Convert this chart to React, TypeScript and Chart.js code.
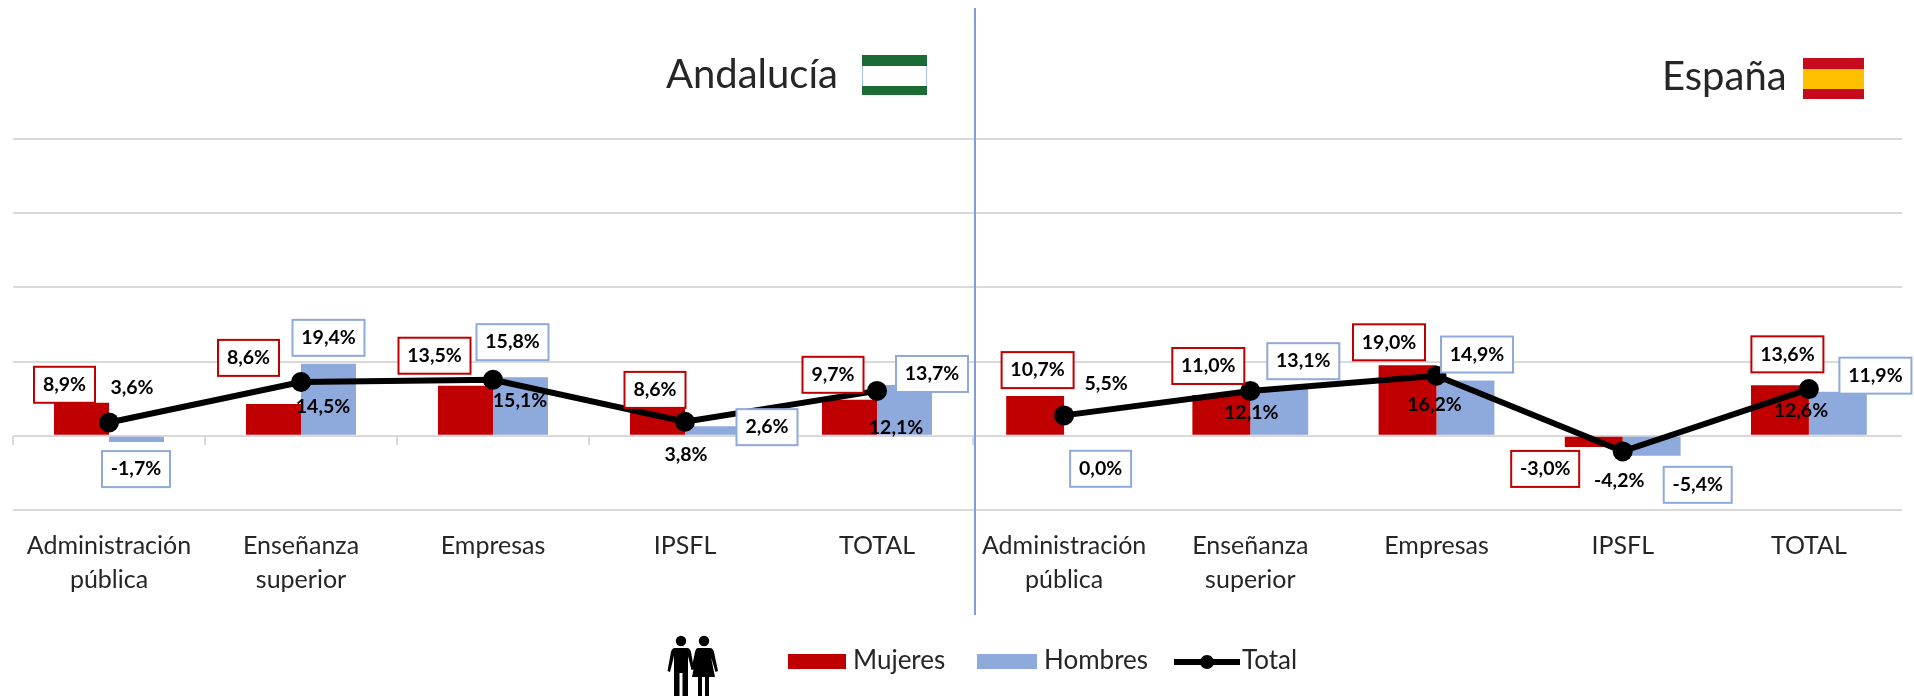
import React, { useEffect, useRef } from "react";
import { Chart, registerables } from "chart.js";

Chart.register(...registerables);

const categories = [["Administración", "pública"], ["Enseñanza", "superior"], "Empresas", "IPSFL", "TOTAL"];

const andaluciaMujeres = [8.9, 8.6, 13.5, 8.6, 9.7];
const andaluciaHombres = [-1.7, 19.4, 15.8, 2.6, 13.7];
const andaluciaTotal = [3.6, 14.5, 15.1, 3.8, 12.1];

const espanaMujeres = [10.7, 11.0, 19.0, -3.0, 13.6];
const espanaHombres = [0.0, 13.1, 14.9, -5.4, 11.9];
const espanaTotal = [5.5, 12.1, 16.2, -4.2, 12.6];

const seriesNames = ["Mujeres", "Hombres", "Total"];
const RED = "#C00000";
const BLUE = "#8EA9DB";
const GRID = "#D9D9D9";
const FONT = "Lato, Carlito, sans-serif";

// Hand-placed label offsets from category centre / value pixel: [dx, dy]
const offsetsAndalucia = [
  [[-44.5, -18], [-52.5, -46], [-58.5, -30], [-30, -14], [-44, -25]],
  [[27, 27], [27.5, -26], [19.5, -35], [82, 1], [55, -11]],
  [[23, -35], [22, 25], [27, 21], [1, 33], [19, 37]],
];
const offsetsEspana = [
  [[-26.5, -26], [-42, -29], [-47.5, -23], [-77.5, 22], [-21.5, -31]],
  [[36.5, 33], [53, -26], [40.5, -26], [75, 29], [66.5, -16]],
  [[42, -32], [1, 22], [-2, 29], [-3.5, 29], [-8, 22]],
];

const fmt = (v: number) => v.toFixed(1).replace(".", ",") + "%";

function labelPlugin(offsets: number[][][]) {
  return {
    id: "boxedLabels",
    afterDatasetsDraw(chart: any) {
      const { ctx } = chart;
      const xs = chart.scales.x;
      const ys = chart.scales.y;
      ctx.save();
      ctx.font = `bold 19.5px ${FONT}`;
      ctx.textAlign = "center";
      ctx.textBaseline = "middle";
      chart.data.datasets.forEach((ds: any, si: number) => {
        ds.data.forEach((v: number, i: number) => {
          const [dx, dy] = offsets[si][i];
          const cx = xs.getPixelForValue(i) + dx;
          const cy = ys.getPixelForValue(v) + dy;
          const text = fmt(v);
          if (ds.labelBorder) {
            const w = Math.round(ctx.measureText(text).width) + 18;
            const h = 36;
            ctx.fillStyle = "#FFFFFF";
            ctx.strokeStyle = ds.labelBorder;
            ctx.lineWidth = 2;
            ctx.fillRect(cx - w / 2, cy - h / 2, w, h);
            ctx.strokeRect(cx - w / 2, cy - h / 2, w, h);
          }
          ctx.fillStyle = "#000000";
          ctx.fillText(text, cx, cy);
        });
      });
      ctx.restore();
    },
  };
}

function PanelChart(props: {
  left: number; width: number; padLeft: number; padRight: number; catPct: number; ticks: boolean;
  mujeres: number[]; hombres: number[]; total: number[]; offsets: number[][][];
}) {
  const ref = useRef<HTMLCanvasElement>(null);
  useEffect(() => {
    const chart = new Chart(ref.current as HTMLCanvasElement, {
      type: "bar",
      data: {
        labels: categories as any,
        datasets: [
          { type: "bar", label: seriesNames[0], data: props.mujeres, backgroundColor: RED, order: 2, barPercentage: 1, categoryPercentage: props.catPct, labelBorder: RED } as any,
          { type: "bar", label: seriesNames[1], data: props.hombres, backgroundColor: BLUE, order: 2, barPercentage: 1, categoryPercentage: props.catPct, labelBorder: BLUE } as any,
          { type: "line", label: seriesNames[2], data: props.total, borderColor: "#000000", backgroundColor: "#000000", borderWidth: 6, pointRadius: 10, pointBackgroundColor: "#000000", pointBorderWidth: 0, tension: 0, order: 1 } as any,
        ],
      },
      options: {
        responsive: false,
        animation: false,
        devicePixelRatio: 1,
        layout: { autoPadding: false, padding: { top: 139, left: props.padLeft, right: props.padRight, bottom: 0 } },
        plugins: { legend: { display: false }, tooltip: { enabled: false }, title: { display: false } },
        scales: {
          x: {
            position: "bottom",
            offset: true,
            grid: { display: false, drawTicks: false },
            border: { display: false },
            ticks: { font: { family: FONT, size: 25, lineHeight: 34 / 25 } as any, color: "#262626", maxRotation: 0, autoSkip: false, padding: 19 },
            afterFit: (s: any) => { s.height = 186; s.paddingLeft = 0; s.paddingRight = 0; },
          },
          x2: {
            type: "category",
            position: { y: 0 } as any,
            offset: true,
            display: props.ticks,
            grid: { display: true, drawOnChartArea: false, drawTicks: true, tickLength: 9, color: GRID, lineWidth: 2, offset: true },
            border: { display: false },
            ticks: { display: false },
          },
          y: {
            min: -20,
            max: 80,
            ticks: { display: false, stepSize: 20 },
            grid: { color: GRID, lineWidth: 2, drawTicks: false },
            border: { display: false },
            afterFit: (s: any) => { s.width = 0; },
          },
        },
      } as any,
      plugins: [labelPlugin(props.offsets)],
    });
    return () => chart.destroy();
  }, []);
  return <canvas ref={ref} width={props.width} height={696} style={{ position: "absolute", left: props.left, top: 0, width: props.width, height: 696 }} />;
}

const abs = (left: number, top: number, width: number, height: number, background?: string): React.CSSProperties => ({
  position: "absolute", left, top, width, height, background,
});

function text(label: string, left: number, top: number, size: number) {
  return (
    <span style={{ position: "absolute", left, top, fontFamily: FONT, fontSize: size, lineHeight: `${size}px`, color: "#262626", whiteSpace: "nowrap" }}>{label}</span>
  );
}

export default function App() {
  return (
    <div style={{ position: "absolute", left: 0, top: 0, width: 1914, height: 696, background: "#FFFFFF", overflow: "hidden" }}>
      <PanelChart left={0} width={974} padLeft={13} padRight={1} catPct={0.573} ticks={true}
        mujeres={andaluciaMujeres} hombres={andaluciaHombres} total={andaluciaTotal} offsets={offsetsAndalucia} />
      <PanelChart left={971} width={943} padLeft={0} padRight={12} catPct={0.622} ticks={false}
        mujeres={espanaMujeres} hombres={espanaHombres} total={espanaTotal} offsets={offsetsEspana} />

      <div style={abs(974, 8, 2, 607, "#7F9DDB")} />

      {text("Andalucía", 666, 53, 40)}
      <div style={{ ...abs(862, 55, 65, 40, "#FFFFFF"), boxSizing: "border-box", border: "1px solid #A9C4DE" }} />
      <div style={abs(862, 55, 65, 11, "#1B6B34")} />
      <div style={abs(862, 86, 65, 9, "#1B6B34")} />

      {text("España", 1662, 55, 40)}
      <div style={abs(1803, 58, 61, 41, "#C60B1E")} />
      <div style={abs(1803, 69, 61, 20, "#FFC000")} />

      <svg style={{ position: "absolute", left: 667, top: 635 }} width={52} height={61} viewBox="0 0 52 61">
        <circle cx={14} cy={6} r={5.2} fill="#000" />
        <circle cx={37} cy={6} r={5.2} fill="#000" />
        <path d="M8 13 H20 Q23 13 24 17 L27 34 L24.5 35 L21 21 V61 H15.5 V38 H12.5 V61 H7 V21 L3 37 L0.5 36 L4 17 Q5 13 8 13 Z" fill="#000" />
        <path d="M31 13 H43 Q46 13 47 17 L51 36 L48.5 37 L44 22 L48 42 H42 V61 H38 V42 H35 V61 H31 V42 H25 L29 22 L27 35 L24.5 34 L28 17 Q29 13 31 13 Z" fill="#000" />
      </svg>

      <div style={abs(788, 654, 58, 15, RED)} />
      {text(seriesNames[0], 853, 646, 26)}
      <div style={abs(977, 654, 60, 15, BLUE)} />
      {text(seriesNames[1], 1044, 646, 26)}
      <div style={abs(1174, 659, 66, 6, "#000000")} />
      <div style={{ ...abs(1200, 655, 14, 14, "#000000"), borderRadius: "50%" }} />
      {text(seriesNames[2], 1242, 646, 26)}
    </div>
  );
}
